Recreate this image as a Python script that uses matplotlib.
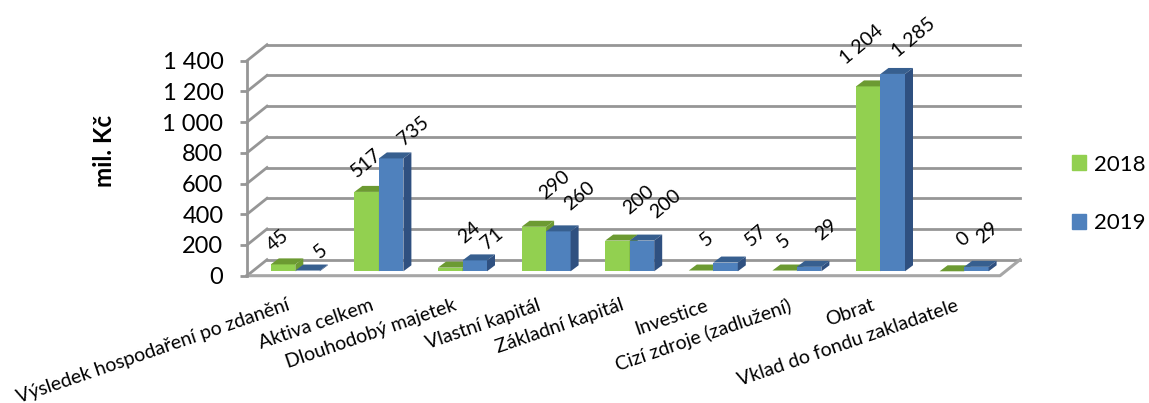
import matplotlib.pyplot as plt
from matplotlib.patches import Polygon

plt.rcParams["font.family"] = ["Lato", "DejaVu Sans"]

categories = ["Výsledek hospodaření po zdanění", "Aktiva celkem", "Dlouhodobý majetek",
              "Vlastní kapitál", "Základní kapitál", "Investice",
              "Cizí zdroje (zadlužení)", "Obrat", "Vklad do fondu zakladatele"]
values_2018 = [45, 517, 24, 290, 200, 5, 5, 1204, 0]
values_2019 = [5, 735, 71, 260, 200, 57, 29, 1285, 29]
y_ticks = [0, 200, 400, 600, 800, 1000, 1200, 1400]
y_tick_labels = ["0", "200", "400", "600", "800", "1 000", "1 200", "1 400"]

# hand placed label offsets (pixels from the top of the bar), like in the original
offsets_2018 = [(-5, 24), (0, 29), (19, 35), (21, 42), (21, 41), (6, 31), (-1, 29), (-7, 42), (11, 32)]
offsets_2019 = [(13, 19), (22, 28), (17, 22), (21, 35), (24, 37), (31, 27), (17, 37), (21, 36), (11, 34)]

W, H = 1149, 403
PX_X = 83.6      # pixels per category
PX_Y = 215 / 1400  # pixels per mil. Kc
GRID = "#969696"

# depth of the walls and of the bars, in data units
wall_dx, wall_dy = 20 / PX_X, 16 / PX_Y
bar_dx, bar_dy = 8 / PX_X, 6 / PX_Y
base = 4.4 / PX_Y
bar_w = 24.5 / PX_X

fig = plt.figure(figsize=(W / 100, H / 100), dpi=100)
ax = fig.add_axes([247 / W, (H - 275.7) / H, (1020 - 247) / W, (275.7 - 44.7) / H])
ax.set_xlim(-48.3 / PX_X, 724.7 / PX_X)
ax.set_ylim(0, 231 / PX_Y)
left, right = ax.get_xlim()
front_right = right - wall_dx

# walls and floor
for v in y_ticks:
    ax.plot([left + wall_dx, right], [v + wall_dy] * 2, color=GRID, lw=2, zorder=1, clip_on=False)
    ax.plot([left, left + wall_dx], [v, v + wall_dy], color=GRID, lw=2, zorder=1, clip_on=False)
ax.plot([left, front_right, right], [0, 0, wall_dy], color="#a6a6a6", lw=2.2, zorder=1, clip_on=False)


def draw_bars(values, xoff, front, top, side, offsets):
    ax.bar([i + xoff for i in range(len(values))], values, bar_w, bottom=base,
           color=front, zorder=3)
    for i, v in enumerate(values):
        x0 = i + xoff - bar_w / 2
        x1 = i + xoff + bar_w / 2
        y1 = base + v
        ax.add_patch(Polygon([(x0, y1), (x1, y1), (x1 + bar_dx, y1 + bar_dy), (x0 + bar_dx, y1 + bar_dy)],
                             closed=True, facecolor=top, edgecolor="none", zorder=3))
        ax.add_patch(Polygon([(x1, base), (x1 + bar_dx, base + bar_dy), (x1 + bar_dx, y1 + bar_dy), (x1, y1)],
                             closed=True, facecolor=side, edgecolor="none", zorder=3))
        lab = f"{v:,}".replace(",", " ")
        ax.annotate(lab, (i + xoff, y1), xytext=offsets[i], textcoords="offset pixels",
                    ha="center", va="center", rotation=40, fontsize=14, color="black",
                    zorder=5, annotation_clip=False)


draw_bars(values_2018, -bar_w / 2, "#92D050", "#6C9A32", "#6C9A32", offsets_2018)
draw_bars(values_2019, bar_w / 2, "#4F81BD", "#375F8F", "#2F5080", offsets_2019)

# y axis
for s in ["top", "right", "bottom"]:
    ax.spines[s].set_visible(False)
ax.spines["left"].set_color(GRID)
ax.spines["left"].set_linewidth(2)
ax.spines["left"].set_bounds(0, 1400)
ax.set_yticks(y_ticks)
ax.set_yticklabels(y_tick_labels, fontsize=17)
ax.tick_params(axis="y", length=5, width=2, color=GRID, pad=12)
ax.patch.set_alpha(0)

# category labels
ax.set_xticks([])
for i, name in enumerate(categories):
    ax.annotate(name, (i, 0), xytext=(-9, -21), textcoords="offset pixels", ha="right", va="top",
                rotation=19, rotation_mode="anchor", fontsize=14, annotation_clip=False)

fig.text(105 / W, (H - 151) / H, "mil. Kč", rotation=90, ha="center", va="center",
         fontsize=17.5, fontweight="bold")

handles = [plt.Rectangle((0, 0), 1, 1, color="#92D050"), plt.Rectangle((0, 0), 1, 1, color="#4F81BD")]
fig.legend(handles, ["2018", "2019"], loc="center left", bbox_to_anchor=(1052 / W, (H - 194) / H),
           frameon=False, fontsize=16, handlelength=0.63, handleheight=0.63,
           handletextpad=0.36, labelspacing=1.75)

fig.savefig("out.png", dpi=100)
